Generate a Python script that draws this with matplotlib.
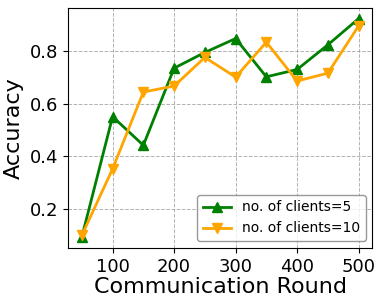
from matplotlib import pyplot as plt

rounds   = [50, 100, 150, 200, 250, 300, 350, 400, 450, 500]
acc_5    = [0.092, 0.551, 0.442, 0.736, 0.796, 0.849, 0.703, 0.731, 0.825, 0.925]
acc_10   = [0.098, 0.352, 0.645, 0.668, 0.777, 0.702, 0.835, 0.687, 0.717, 0.897]

fig = plt.figure(figsize=(3.82, 3.08), dpi=100)
ax  = fig.add_axes([0.178, 0.195, 0.797, 0.78])

ax.plot(rounds, acc_5, color='green', marker='^', ms=7.5, lw=2,
        label='no. of clients=5')
ax.plot(rounds, acc_10, color='orange', marker='v', ms=7.5, lw=2,
        label='no. of clients=10')

ax.grid(True, ls='--', color='gray', alpha=0.6, lw=0.7)
ax.set_xticks([100, 200, 300, 400, 500])
ax.set_yticks([0.2, 0.4, 0.6, 0.8])
ax.tick_params(labelsize=13)
ax.set_xlabel('Communication Round', fontsize=16, labelpad=1)
ax.set_ylabel('Accuracy', fontsize=16, labelpad=4)
ax.legend(loc='lower right', fontsize=10, edgecolor='gray')

fig.savefig('out.png')
